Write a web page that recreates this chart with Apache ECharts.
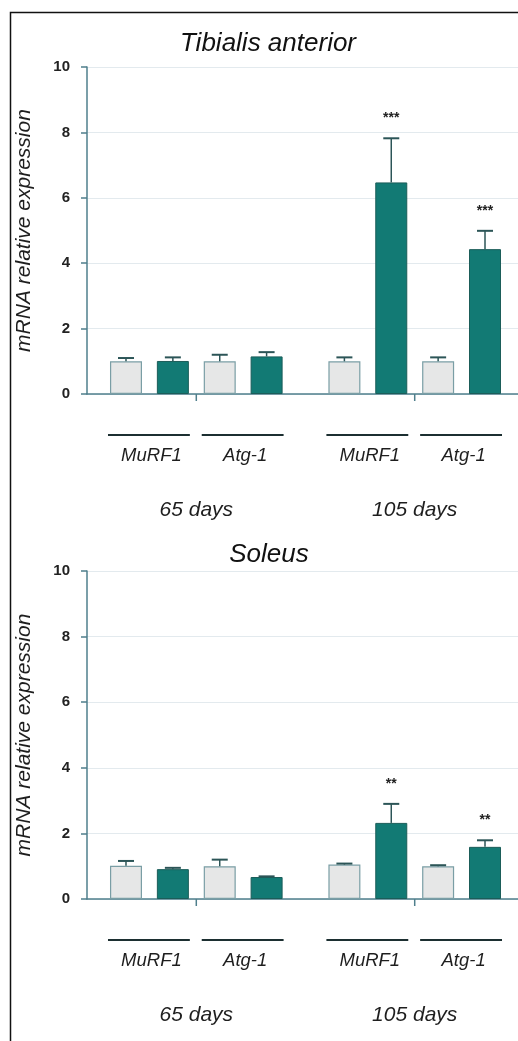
<!DOCTYPE html>
<html>
<head>
<meta charset="utf-8">
<script src="https://cdn.jsdelivr.net/npm/echarts@6/dist/echarts.min.js"></script>
<style>
  html, body { margin: 0; padding: 0; background: #ffffff; }
  #chart { width: 518px; height: 1041px; }
</style>
</head>
<body>
<div id="chart"></div>
<script>
// Group and gene labels along the x axis
const timepoints = ['65 days', '105 days'];
const genes = ['MuRF1', 'Atg-1'];
const yTicks = [0, 2, 4, 6, 8, 10];

// Tibialis anterior, pairs ordered: 65d MuRF1, 65d Atg-1, 105d MuRF1, 105d Atg-1
const taControl = [1.00, 1.00, 1.00, 1.00];
const taControlErr = [0.10, 0.20, 0.12, 0.12];
const taKnockout = [1.01, 1.15, 6.47, 4.43];
const taKnockoutErr = [0.11, 0.13, 1.35, 0.56];
const taStars = ['', '', '***', '***'];

// Soleus, same pair order
const solControl = [1.01, 1.00, 1.05, 1.00];
const solControlErr = [0.15, 0.20, 0.03, 0.03];
const solKnockout = [0.91, 0.67, 2.32, 1.59];
const solKnockoutErr = [0.04, 0.02, 0.58, 0.20];
const solStars = ['', '', '**', '**'];

const panelTitles = ['Tibialis anterior', 'Soleus'];

// ---- layout / style ----
const FONT = '"Liberation Sans", Arial, Helvetica, sans-serif';
const AXIS_COLOR = '#4f7f8c';
const GRID_COLOR = '#e3eaee';
const CTRL_FILL = '#e6e7e7';
const CTRL_BORDER = '#7a9ea5';
const KO_FILL = '#127a74';
const KO_BORDER = '#1b5d59';
const ERR_COLOR = '#2c5557';
const BAR_W = 32;
const GROUP_STEP = 4.66;           // slot distance between the two time points
const X_MIN = -0.832, X_MAX = 8.364;

const grids = [
  { left: 87, right: 0, top: 67, height: 327 },
  { left: 87, right: 0, top: 571, height: 328 }
];
const titleY = [44, 555];

// slot position of a bar: pair k (time point * 2 + gene), cond 0 = control, 1 = knockout
function slot(k, cond) {
  const g = Math.floor(k / 2), gene = k % 2;
  return g * GROUP_STEP + gene * 2 + cond;
}

const panelData = [
  { control: taControl, controlErr: taControlErr, knockout: taKnockout, knockoutErr: taKnockoutErr, stars: taStars },
  { control: solControl, controlErr: solControlErr, knockout: solKnockout, knockoutErr: solKnockoutErr, stars: solStars }
];

const xAxes = [], yAxes = [], series = [];

panelData.forEach(function (p, i) {
  xAxes.push({
    type: 'value', gridIndex: i, min: X_MIN, max: X_MAX,
    axisLine: { show: true, onZero: false, lineStyle: { color: AXIS_COLOR, width: 1.5 } },
    axisTick: { show: false }, axisLabel: { show: false }, splitLine: { show: false }
  });
  yAxes.push({
    type: 'value', gridIndex: i, min: 0, max: 10, interval: 2,
    name: 'mRNA relative expression', nameLocation: 'middle', nameGap: 52, nameRotate: 90,
    nameTextStyle: { fontFamily: FONT, fontStyle: 'italic', fontSize: 21, color: '#1e1e1e' },
    axisLine: { show: true, onZero: false, lineStyle: { color: AXIS_COLOR, width: 1.5 } },
    axisTick: { show: true, length: 6, lineStyle: { color: AXIS_COLOR, width: 1.5 } },
    axisLabel: {
      margin: 17, fontFamily: FONT, fontSize: 15, fontWeight: 'bold', color: '#222',
      formatter: function (v) { return yTicks.indexOf(v) >= 0 ? String(v) : ''; }
    },
    splitLine: { show: true, lineStyle: { color: GRID_COLOR, width: 1.2 } }
  });

  // bars: one series so nothing is shifted side by side
  const barData = [];
  for (let k = 0; k < 4; k++) {
    barData.push({ value: [slot(k, 0), p.control[k]], itemStyle: { color: CTRL_FILL, borderColor: CTRL_BORDER, borderWidth: 1.2 } });
    barData.push({ value: [slot(k, 1), p.knockout[k]], itemStyle: { color: KO_FILL, borderColor: KO_BORDER, borderWidth: 1 } });
  }
  series.push({
    type: 'bar', xAxisIndex: i, yAxisIndex: i, barWidth: BAR_W, data: barData,
    silent: true, animation: false
  });

  // upward error bars with significance stars
  const errData = [], errStars = [];
  for (let k = 0; k < 4; k++) {
    errData.push([slot(k, 0), p.control[k], p.controlErr[k]]); errStars.push('');
    errData.push([slot(k, 1), p.knockout[k], p.knockoutErr[k]]); errStars.push(p.stars[k]);
  }
  series.push({
    type: 'custom', xAxisIndex: i, yAxisIndex: i, data: errData, silent: true, animation: false, z: 5,
    renderItem: function (params, api) {
      const x = api.value(0), m = api.value(1), e = api.value(2);
      const base = api.coord([x, m]);
      const top = api.coord([x, m + e]);
      const children = [
        { type: 'line', shape: { x1: base[0], y1: base[1], x2: top[0], y2: top[1] },
          style: { stroke: ERR_COLOR, lineWidth: 1.5 } },
        { type: 'line', shape: { x1: top[0] - 8, y1: top[1], x2: top[0] + 8, y2: top[1] },
          style: { stroke: ERR_COLOR, lineWidth: 2 } }
      ];
      const s = errStars[params.dataIndex];
      if (s) {
        children.push({ type: 'text', x: top[0], y: top[1] - 20,
          style: { text: s, fontFamily: FONT, fontSize: 14, fontWeight: 'bold', fill: '#222',
                   align: 'center', verticalAlign: 'middle' } });
      }
      return { type: 'group', children: children };
    }
  });

  // gene underlines, gene names, time point labels and group ticks
  series.push({
    type: 'custom', xAxisIndex: i, yAxisIndex: i, data: [[0], [1], [2], [3]],
    silent: true, animation: false, clip: false,
    renderItem: function (params, api) {
      const k = api.value(0);
      const a = api.coord([slot(k, 0), 0]);
      const b = api.coord([slot(k, 1), 0]);
      const y0 = a[1];
      const children = [
        { type: 'line', shape: { x1: a[0] - BAR_W / 2 - 2, y1: y0 + 41, x2: b[0] + BAR_W / 2 + 1, y2: y0 + 41 },
          style: { stroke: '#1c2f31', lineWidth: 2 } },
        { type: 'text', x: (a[0] + b[0]) / 2 + 2, y: y0 + 62,
          style: { text: genes[k % 2], fontFamily: FONT, fontStyle: 'italic', fontSize: 18.5, fill: '#1e1e1e',
                   align: 'center', verticalAlign: 'middle' } }
      ];
      if (k % 2 === 0) {
        const g = Math.floor(k / 2);
        const t = api.coord([g * GROUP_STEP + 1.5, 0]);
        children.push({ type: 'line', shape: { x1: t[0], y1: y0, x2: t[0], y2: y0 + 7 },
          style: { stroke: AXIS_COLOR, lineWidth: 1.5 } });
        children.push({ type: 'text', x: t[0], y: y0 + 116,
          style: { text: timepoints[g], fontFamily: FONT, fontStyle: 'italic', fontSize: 21, fill: '#1e1e1e',
                   align: 'center', verticalAlign: 'middle' } });
      }
      return { type: 'group', children: children };
    }
  });
});

const chart = echarts.init(document.getElementById('chart'), null, { renderer: 'canvas' });
chart.setOption({
  backgroundColor: '#ffffff',
  animation: false,
  grid: grids,
  xAxis: xAxes,
  yAxis: yAxes,
  series: series,
  graphic: [
    { type: 'rect', shape: { x: 10.5, y: 12.5, width: 700, height: 1100 },
      style: { fill: 'none', stroke: '#111', lineWidth: 1.5 }, silent: true },
    { type: 'text', x: 268, y: titleY[0],
      style: { text: panelTitles[0], fontFamily: FONT, fontStyle: 'italic', fontSize: 26, fill: '#111',
               align: 'center', verticalAlign: 'middle' } },
    { type: 'text', x: 269, y: titleY[1],
      style: { text: panelTitles[1], fontFamily: FONT, fontStyle: 'italic', fontSize: 26, fill: '#111',
               align: 'center', verticalAlign: 'middle' } }
  ]
});
</script>
</body>
</html>
